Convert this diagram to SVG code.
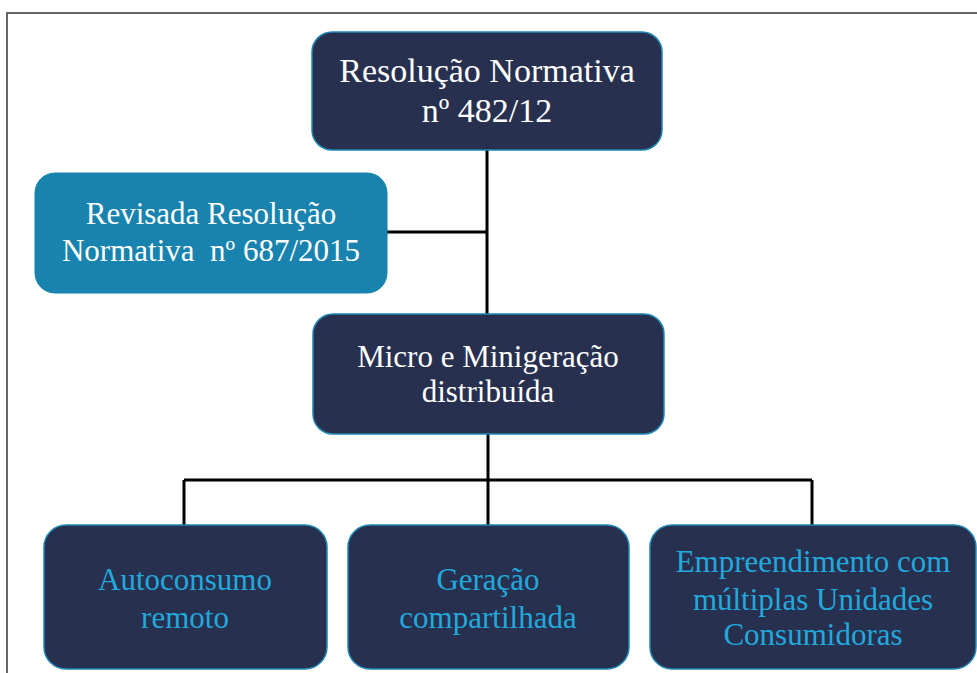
<svg xmlns="http://www.w3.org/2000/svg" width="977" height="673" viewBox="0 0 977 673">
<style>
.box{fill:#283050;stroke:#1f87b3;stroke-width:1.5}
.rev{fill:#1783AE;stroke:#1783AE;stroke-width:1}
.t{font-family:"Liberation Serif","DejaVu Serif","Noto Serif",serif;font-size:31px;text-anchor:middle}
.big{font-size:34px}
.w{fill:#ffffff}
.b{fill:#22a9dc}
.c{stroke:#000;stroke-width:3;fill:none}
</style>
<rect x="0" y="0" width="977" height="673" fill="#fff"/>
<path d="M7 673 V13 H977" stroke="#666" stroke-width="2" fill="none"/>
<g id="connectors">
<path class="c" d="M487 150 V314 M387 232 H487 M488 434 V525 M184 480 H812 M184 480 V525 M812 480 V525"/>
</g>
<g id="n1"><rect class="box" x="312" y="32" width="350" height="118" rx="20"/>
<text class="t big w" x="487" y="82">Resolução Normativa</text><text class="t big w" x="487" y="122">nº 482/12</text></g>
<g id="n2"><rect class="rev" x="35" y="173" width="352" height="120" rx="20"/>
<text class="t w" x="211" y="224">Revisada Resolução</text><text class="t w" x="211" y="261" xml:space="preserve">Normativa  nº 687/2015</text></g>
<g id="n3"><rect class="box" x="313" y="314" width="351" height="120" rx="20"/>
<text class="t w" x="488" y="367">Micro e Minigeração</text><text class="t w" x="488" y="402">distribuída</text></g>
<g id="n4"><rect class="box" x="44" y="525" width="283" height="144" rx="22"/>
<text class="t b" x="185" y="590">Autoconsumo</text><text class="t b" x="185" y="628">remoto</text></g>
<g id="n5"><rect class="box" x="348" y="525" width="281" height="144" rx="22"/>
<text class="t b" x="488" y="590">Geração</text><text class="t b" x="488" y="628">compartilhada</text></g>
<g id="n6"><rect class="box" x="650" y="525" width="326" height="144" rx="22"/>
<text class="t b" x="813" y="572">Empreendimento com</text><text class="t b" x="813" y="610">múltiplas Unidades</text><text class="t b" x="813" y="645">Consumidoras</text></g>
</svg>
